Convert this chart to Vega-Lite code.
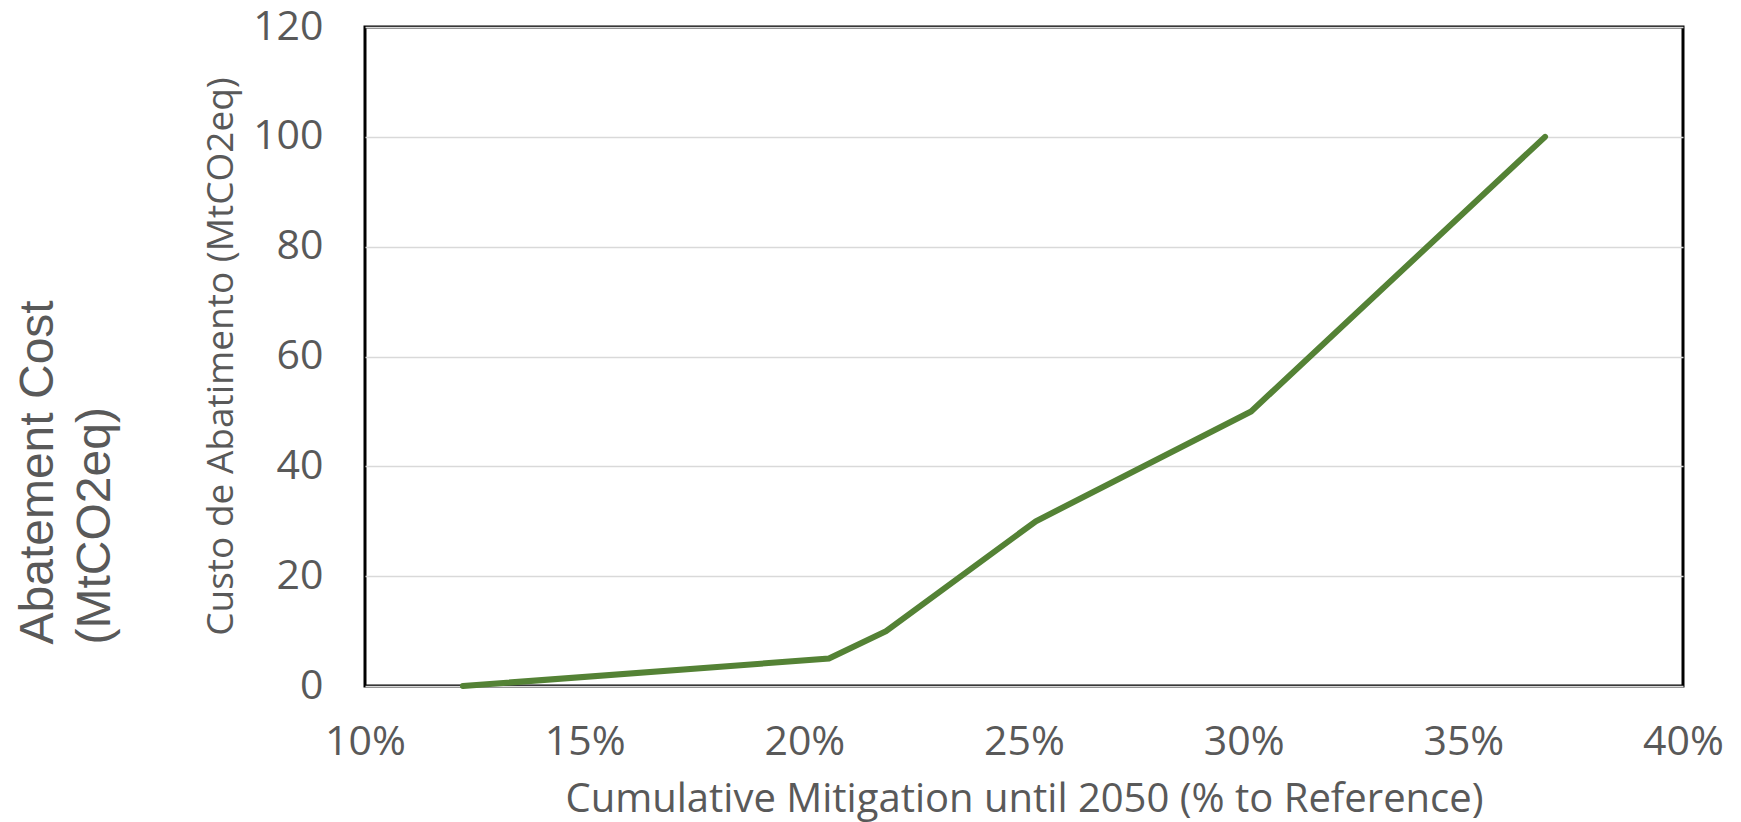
{
  "$schema": "https://vega.github.io/schema/vega-lite/v6.json",
  "autosize": {"type": "none"},
  "width": 1318,
  "height": 659,
  "padding": {"left": 365, "top": 27, "right": 58, "bottom": 136},
  "background": "white",
  "config": {
    "view": {"stroke": "black", "strokeWidth": 3},
    "font": "Open Sans"
  },
  "data": {
    "values": [
      {"mitigation": 0.1223, "cost": 0},
      {"mitigation": 0.2056, "cost": 5},
      {"mitigation": 0.2186, "cost": 10},
      {"mitigation": 0.2527, "cost": 30},
      {"mitigation": 0.3017, "cost": 50},
      {"mitigation": 0.3686, "cost": 100}
    ]
  },
  "layer": [
    {
      "mark": {"type": "line", "color": "#548235", "strokeWidth": 6, "strokeCap": "round", "strokeJoin": "miter"},
      "encoding": {
        "x": {
          "field": "mitigation", "type": "quantitative",
          "scale": {"domain": [0.1, 0.4], "nice": false, "zero": false},
          "axis": {
            "values": [0.1, 0.15, 0.2, 0.25, 0.3, 0.35, 0.4],
            "format": ".0%",
            "grid": false, "domain": false, "ticks": false,
            "labelFont": "Open Sans", "labelFontSize": 41, "labelColor": "#595959",
            "labelBaseline": "alphabetic", "labelPadding": 68,
            "labelFlush": false, "labelOverlap": false,
            "title": "Cumulative Mitigation until 2050 (% to Reference)",
            "titleFont": "Open Sans", "titleFontSize": 40, "titleFontWeight": "normal",
            "titleColor": "#595959", "titleBaseline": "alphabetic", "titleY": 125
          }
        },
        "y": {
          "field": "cost", "type": "quantitative",
          "scale": {"domain": [0, 120], "nice": false},
          "axis": {
            "orient": "left",
            "values": [0, 20, 40, 60, 80, 100, 120],
            "grid": true, "gridColor": "#d9d9d9", "gridWidth": 1.5,
            "domain": false, "ticks": false,
            "labelFont": "Open Sans", "labelFontSize": 41, "labelColor": "#595959",
            "labelPadding": 42, "labelFlush": false, "labelOverlap": false,
            "title": "Custo de Abatimento (MtCO2eq)",
            "titleFont": "Open Sans", "titleFontSize": 37, "titleFontWeight": "normal",
            "titleColor": "#595959", "titleAngle": -90, "titleBaseline": "alphabetic",
            "titleAlign": "center", "titleX": -133, "titleY": 329
          }
        }
      }
    },
    {
      "mark": {"type": "line", "opacity": 0},
      "encoding": {
        "x": {"field": "mitigation", "type": "quantitative"},
        "y": {
          "field": "cost", "type": "quantitative",
          "axis": {
            "orient": "left",
            "labels": false, "grid": false, "domain": false, "ticks": false,
            "title": ["Abatement Cost", "(MtCO2eq)"],
            "titleFont": "Liberation Sans", "titleFontSize": 48, "titleFontWeight": "normal",
            "titleColor": "#595959", "titleAngle": -90, "titleBaseline": "alphabetic",
            "titleAlign": "left", "titleX": -313, "titleY": 617, "titleLineHeight": 57
          }
        }
      }
    }
  ],
  "resolve": {"axis": {"y": "independent"}}
}
